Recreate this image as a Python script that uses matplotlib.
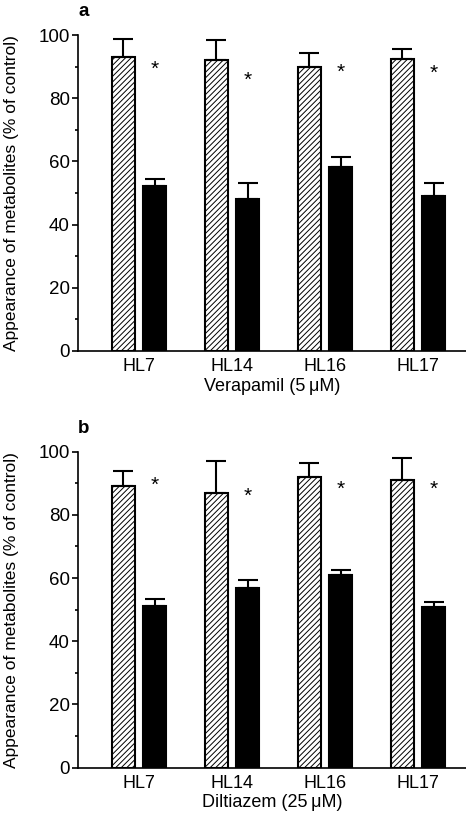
import numpy as np
import matplotlib.pyplot as plt

plt.rcParams['font.family'] = ['Liberation Sans', 'DejaVu Sans']
plt.rcParams['hatch.linewidth'] = 0.7

# data
cells = ['HL7', 'HL14', 'HL16', 'HL17']

vera_ctrl = [93.0, 92.0, 90.0, 92.4]
vera_ctrl_err = [5.7, 6.5, 4.4, 3.2]
vera_drug = [52.2, 48.1, 58.1, 49.0]
vera_drug_err = [2.2, 5.2, 3.3, 4.1]
vera_star = [89.2, 85.8, 88.1, 87.9]

dilt_ctrl = [89.1, 87.0, 91.9, 91.0]
dilt_ctrl_err = [4.8, 10.1, 4.5, 6.9]
dilt_drug = [51.1, 56.8, 60.9, 50.9]
dilt_drug_err = [2.3, 2.5, 1.8, 1.5]
dilt_star = [89.5, 85.8, 88.1, 88.1]

panels = [
    ('a', 'Verapamil (5\u2009\u03bcM)', vera_ctrl, vera_ctrl_err, vera_drug, vera_drug_err, vera_star),
    ('b', 'Diltiazem (25\u2009\u03bcM)', dilt_ctrl, dilt_ctrl_err, dilt_drug, dilt_drug_err, dilt_star),
]

fig = plt.figure(figsize=(4.66, 8.22), dpi=100)
boxes = [[0.1674, 0.573, 0.8326, 0.3844], [0.1674, 0.0661, 0.8326, 0.3844]]

x = np.arange(len(cells))
w = 0.25
off = 0.167
ekw = dict(ecolor='black', elinewidth=1.5, capsize=7, capthick=1.5)

for box, (letter, xlab, ctrl, ctrl_err, drug, drug_err, star) in zip(boxes, panels):
    ax = fig.add_axes(box)
    ax.bar(x - off, ctrl, w, color='white', edgecolor='black', hatch='//////',
           linewidth=1.5, yerr=[np.zeros(4), ctrl_err], error_kw=ekw)
    ax.bar(x + off, drug, w, color='black', edgecolor='black',
           linewidth=1.5, yerr=[np.zeros(4), drug_err], error_kw=ekw)
    for xi, s in zip(x + off, star):
        ax.text(xi, s, '*', ha='center', va='center', fontsize=15)

    ax.set_xlim(-0.656, 3.516)
    ax.set_ylim(0, 100)
    ax.set_yticks(np.arange(0, 101, 20))
    ax.set_yticks(np.arange(10, 100, 20), minor=True)
    ax.tick_params(axis='y', which='major', length=4, width=1.2, labelsize=13.5, pad=2)
    ax.tick_params(axis='y', which='minor', length=2.5, width=1.2)
    ax.set_xticks(x)
    ax.set_xticklabels(cells)
    ax.tick_params(axis='x', length=0, labelsize=13, pad=5)
    for sp in ['top', 'right']:
        ax.spines[sp].set_visible(False)
    ax.spines['left'].set_linewidth(1.2)
    ax.spines['bottom'].set_linewidth(1.2)
    ax.set_xlabel(xlab, fontsize=13, labelpad=2)
    ax.set_ylabel('Appearance of metabolites (% of control)', fontsize=12.5)
    ax.yaxis.set_label_coords(-0.152, 0.5)
    ax.text(0.0, 1.073, letter, transform=ax.transAxes, fontsize=13.5, fontweight='bold',
            ha='left', va='center')

fig.savefig('out.png', dpi=100)
